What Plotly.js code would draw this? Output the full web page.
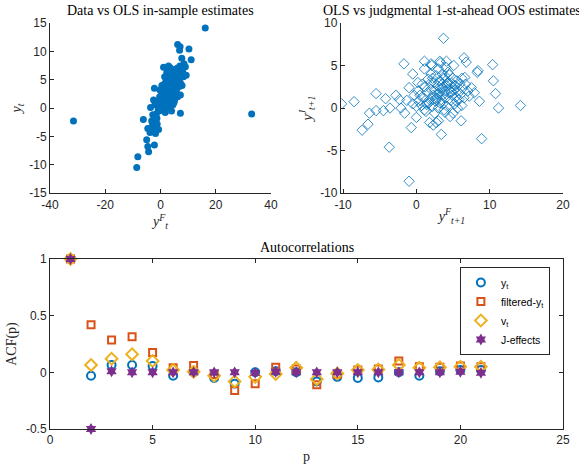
<!DOCTYPE html>
<html>
<head>
<meta charset="utf-8">
<script src="https://cdn.plot.ly/plotly-3.0.1.min.js"></script>
<style>html,body{margin:0;padding:0;background:#fff;}#chart{width:579px;height:467px;}</style>
</head>
<body>
<div id="chart"></div>
<script>
// ---- Panel 1: Data vs OLS in-sample estimates ----
const insampleF = [16.2,-31.5,33,6.2,7.1,6.9,10.3,11.1,7.7,9.0,9.3,1.1,2.9,-2.2,-3.6,-6.2,-4.6,-0.7,-5,-4.6,-4.3,-2.2,-1.8,-8.2,-8.6,7.2,4.0,1.7,7.2,-2.5,-1.3,-3.1,
 -1.5,-1,-0.8,-0.5,-0.3,0,0.2,0.3,0.5,0.6,0.8,1,1,1.2,1.3,1.5,1.5,1.7,1.8,2,2,2.1,2.2,2.4,2.5,2.6,2.7,2.8,3,3,3.1,3.2,3.3,3.4,3.5,3.6,3.7,3.8,4,4,4.1,4.2,4.3,4.4,4.5,4.6,4.7,4.8,5,5,5.1,5.2,5.3,5.4,5.5,5.6,5.8,5.9,6,6.1,6.2,6.3,6.5,6.6,6.8,7,7,7.2,7.5,7.8,8,8.3,8.5,0.5,1.5,-0.5,-1.2,-2,-0.2,2.3,3.5,1.8,0.9,2.9,4.9,-2.8,-1.8,-3.2,-2.5,-3.8,-2.2,-1.2];
const insampleY = [14.1,-2.3,-1.06,11.2,10.8,10.2,10.4,8.5,8.8,7.3,5.8,7.2,7.4,3.5,0.1,-2.0,-3.6,-3.8,-5.6,-6.8,-7.7,-6.5,-4.5,-8.6,-10.5,-0.9,-0.5,-0.8,2.3,1.4,-1.8,-3.3,
 -1,0.5,-0.3,1.2,2.0,0.2,1.5,3.0,0.8,2.2,-0.2,1.0,3.5,2.0,4.2,0.5,2.8,1.5,3.8,2.4,4.8,0.9,3.2,1.8,4.0,2.6,0.3,5.2,3.0,1.5,4.4,2.2,6.0,3.6,0.8,5.0,2.8,4.2,1.8,6.4,3.4,5.4,2.5,4.6,0.6,3.9,5.9,2.9,4.8,6.8,1.4,3.7,5.6,2.6,4.3,6.2,3.2,5.1,7.0,4.0,2.0,5.8,4.6,6.6,3.8,5.3,7.4,4.4,6.0,4.0,6.5,5.5,7.8,4.0,5.5,-0.5,1.2,0.6,3.2,6.3,7.1,-0.5,1.8,0.6,1.0,-1.2,-2.5,-2.3,-3.0,-4.3,-4.0,-2.8];

// ---- Panel 2: OLS vs judgmental 1-st-ahead OOS estimates ----
const oosF = [3.7,-10.2,-8.5,-7.4,-6.6,-6.4,-5.5,-5.5,-4.5,-4.2,-3.6,-3.7,-2.8,-1.7,-2.3,-2.1,-1.6,-1.0,-0.7,-0.5,0,0.2,1.1,2.0,3.2,4.1,5.1,6.5,6.8,8.4,8.3,10.4,10.5,10.8,11.2,14.2,8.9,8.6,6.1,5.0,3.4,3.0,2.3,1.8,3.9,2.7,1.1,1.4,7.9,7.5,6.6,
 1,1.2,1.4,1.5,1.6,1.8,2,2,2.2,2.3,2.4,2.5,2.6,2.7,2.8,2.9,3,3,3.1,3.2,3.3,3.4,3.5,3.5,3.6,3.7,3.8,3.9,4,4,4.1,4.2,4.3,4.4,4.5,4.6,4.7,4.8,4.9,5,5.1,5.2,5.3,5.4,5.5,5.6,5.8,5.9,6,6.2,6.3,6.5,6.7,7,7.2,0.5,0.7,0.8,0.3,-0.3,-0.5,-1,-1.3,0,0.2,1.1,2.1,3.3,4.3,1.3,2.5,3.8,4.6,5.6,6.2,1.9,2.9,3.6,4.8,5.2,2.2,3.9,4.2,1.7,2.6,3.2,5.5];
const oosJ = [8.2,0.5,0.75,-2.6,-1.9,-0.6,1.7,-0.3,-0.3,1.1,0.0,-4.6,1.5,5.2,1.0,0.0,-0.6,-8.6,-2.3,4.0,-1.1,3.0,5.5,5.2,5.5,5.5,5.0,5.9,5.4,4.4,4.2,5.1,3.2,1.7,0.0,0.3,-3.6,0.8,-1.5,-0.6,-3.1,-1.5,-2.0,-1.7,-0.5,-1.7,-0.2,0.6,1.8,2.4,3.6,
 1.2,2.5,0.4,1.8,3.4,1.0,2.2,4.0,0.2,1.5,3.0,2.0,0.8,3.8,1.2,2.6,4.6,0.0,1.8,3.2,2.3,1.0,4.0,2.8,0.5,1.6,3.5,2.0,4.8,1.2,2.6,0.2,3.0,1.8,3.9,2.3,0.9,2.9,1.5,3.5,2.1,0.5,2.6,1.3,3.2,2.0,1.0,2.8,1.6,3.5,2.3,1.2,2.8,2.0,1.4,1.5,0.3,2.8,0.8,1.5,0.5,2.4,0.9,0.2,2.0,4.6,5.0,5.3,4.2,-0.4,-0.6,-0.2,-1.0,0.0,0.3,2.9,1.6,2.4,1.9,2.7,3.5,3.8,2.9,0.6,1.1,0.6,0.8];

// ---- Panel 3: Autocorrelations ----
const lags = [1,2,3,4,5,6,7,8,9,10,11,12,13,14,15,16,17,18,19,20,21];
const acfY = [1,-0.03,0.065,0.065,0.055,-0.03,0.0,-0.05,-0.1,0.0,0.01,0.0,-0.08,-0.04,-0.05,-0.045,0.0,-0.03,0.01,0.02,0.02];
const acfFiltered = [1,0.42,0.285,0.315,0.175,0.04,0.06,-0.02,-0.16,-0.1,0.045,0.03,-0.11,-0.02,0.02,0.03,0.1,0.05,0.045,0.055,0.05];
const acfV = [1,0.065,0.12,0.16,0.1,0.02,0.005,-0.03,-0.08,-0.04,-0.015,0.04,-0.06,-0.01,0.02,0.025,0.065,0.04,0.045,0.05,0.05];
const acfJ = [1,-0.5,0.01,0.0,0.0,0.0,0.0,0.0,0.0,-0.005,0.005,0.0,0.0,0.0,0.0,0.0,0.0,0.0,0.0,0.005,-0.005];
const seriesNames = ['y<sub>t</sub>','filtered-y<sub>t</sub>','v<sub>t</sub>','J-effects'];

const acfTickVals = [-0.5,0,0.5,1];
const acfTickText = ['-0.5','0','0.5','1'];
const p1xVals = [-40,-20,0,20,40], p1xText = ['-40','-20','0','20','40'];
const p1yVals = [-15,-10,-5,0,5,10,15], p1yText = ['-15','-10','-5','0','5','10','15'];
const p2xVals = [-10,0,10,20], p2xText = ['-10','0','10','20'];
const p2yVals = [-10,-5,0,5,10], p2yText = ['-10','-5','0','5','10'];
const p3xVals = [0,5,10,15,20,25], p3xText = ['0','5','10','15','20','25'];

const C1='#0072BD', C2='#D95319', C3='#EDB120', C4='#7E2F8E';
const AX='#262626';
const tickFont = {family:'Liberation Sans, Arial, sans-serif', size:12, color:AX};
const serif = 'Liberation Serif, Times New Roman, serif';

const traces = [
  {x:insampleF, y:insampleY, xaxis:'x', yaxis:'y', mode:'markers', type:'scatter', showlegend:false,
   marker:{color:C1, size:7, line:{width:0}}},
  {x:oosF, y:oosJ, xaxis:'x2', yaxis:'y2', mode:'markers', type:'scatter', showlegend:false,
   marker:{color:C1, size:8, symbol:'diamond-open', line:{width:0.8, color:C1}}},
  {x:lags, y:acfY, xaxis:'x3', yaxis:'y3', mode:'markers', type:'scatter', name:seriesNames[0], cliponaxis:false,
   marker:{color:C1, size:8, symbol:'circle-open', line:{width:2, color:C1}}},
  {x:lags, y:acfFiltered, xaxis:'x3', yaxis:'y3', mode:'markers', type:'scatter', name:seriesNames[1], cliponaxis:false,
   marker:{color:C2, size:7, symbol:'square-open', line:{width:2, color:C2}}},
  {x:lags, y:acfV, xaxis:'x3', yaxis:'y3', mode:'markers', type:'scatter', name:seriesNames[2], cliponaxis:false,
   marker:{color:C3, size:9, symbol:'diamond-open', line:{width:2, color:C3}}},
  {x:lags, y:acfJ, xaxis:'x3', yaxis:'y3', mode:'markers', type:'scatter', name:seriesNames[3], cliponaxis:false,
   marker:{color:C4, size:9, symbol:'hexagram', line:{width:0}}}
];

function ax(extra){
  return Object.assign({showline:true, linecolor:AX, linewidth:1, ticks:'inside', ticklen:4, tickcolor:AX,
    showgrid:false, zeroline:false, tickfont:tickFont, tickmode:'array', fixedrange:true}, extra);
}
const mathFont = {family:serif, size:14, color:AX};

const layout = {
  width:579, height:467,
  margin:{l:50, r:16, t:23, b:38},
  paper_bgcolor:'#fff', plot_bgcolor:'#fff',
  xaxis: ax({domain:[0,0.4308], anchor:'y', range:[-40,40], tickvals:p1xVals, ticktext:p1xText,
    title:{text:'<i>y</i><sup><i>F</i></sup><sub><i>t</i></sub>', font:mathFont, standoff:0}}),
  yaxis: ax({domain:[0.581,1], anchor:'x', range:[-15,15], tickvals:p1yVals, ticktext:p1yText,
    title:{text:'<i>y</i><sub><i>t</i></sub>', font:mathFont, standoff:4}}),
  xaxis2: ax({domain:[0.567,1], anchor:'y2', range:[-10.3,20], tickvals:p2xVals, ticktext:p2xText,
    title:{text:'<i>y</i><sup><i>F</i></sup><sub><i>t+1</i></sub>', font:mathFont, standoff:0}}),
  yaxis2: ax({domain:[0.581,1], anchor:'x2', range:[-10,10], tickvals:p2yVals, ticktext:p2yText,
    title:{text:'<i>y</i><sup><i>J</i></sup><sub><i>t+1</i></sub>', font:mathFont, standoff:4}}),
  xaxis3: ax({domain:[0,1], anchor:'y3', range:[0,25], tickvals:p3xVals, ticktext:p3xText, mirror:'ticks',
    title:{text:'p', font:{family:serif, size:14, color:AX}, standoff:4}}),
  yaxis3: ax({domain:[0,0.4187], anchor:'x3', range:[-0.5,1], tickvals:acfTickVals, ticktext:acfTickText, mirror:'ticks',
    title:{text:'ACF(p)', font:{family:serif, size:14, color:AX}, standoff:6}}),
  legend:{x:0.799, y:0.399, xanchor:'left', yanchor:'top', xref:'paper', yref:'paper',
    bordercolor:AX, borderwidth:1, bgcolor:'#fff',
    font:{family:'Liberation Sans, Arial, sans-serif', size:10.5, color:'#000'}, tracegroupgap:0, itemwidth:30},
  annotations:[
    {text:'Data vs OLS in-sample estimates', xref:'paper', yref:'paper', x:0.2154, y:1.0, yanchor:'bottom', xanchor:'center', yshift:3,
     showarrow:false, font:{family:serif, size:14, color:'#000'}},
    {text:'OLS vs judgmental 1-st-ahead OOS estimates', xref:'paper', yref:'paper', x:0.7835, y:1.0, yanchor:'bottom', xanchor:'center', yshift:3,
     showarrow:false, font:{family:serif, size:14, color:'#000'}},
    {text:'Autocorrelations', xref:'paper', yref:'paper', x:0.5, y:0.4187, yanchor:'bottom', xanchor:'center', yshift:2,
     showarrow:false, font:{family:serif, size:14, color:'#000'}}
  ]
};

Plotly.newPlot('chart', traces, layout, {displayModeBar:false, staticPlot:true});
</script>
</body>
</html>
